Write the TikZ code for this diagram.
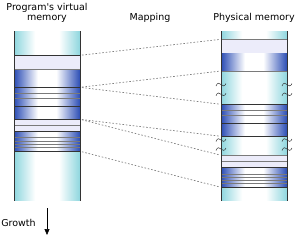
\documentclass[tikz,border=0pt]{standalone}
\usepackage{fontspec}
\setmainfont{DejaVu Sans}
\usepackage{xcolor}
\definecolor{cCyan}{HTML}{8ED6DE}
\definecolor{cBlue}{HTML}{2B4DB5}
\definecolor{cLav}{HTML}{ECECFA}
\definecolor{cEdge}{HTML}{333333}
\definecolor{cRule}{HTML}{7A7A7A}
\definecolor{cMap}{HTML}{808080}
\usepackage{tikz}
\usetikzlibrary{arrows.meta}
\pgfdeclarehorizontalshading{sh-cyan}{100bp}{color(0bp)=(cCyan); color(25bp)=(cCyan);
  color(41bp)=(white); color(59bp)=(white); color(75bp)=(cCyan); color(100bp)=(cCyan)}
\pgfdeclarehorizontalshading{sh-blue}{100bp}{color(0bp)=(cBlue); color(25bp)=(cBlue);
  color(43bp)=(white); color(57bp)=(white); color(75bp)=(cBlue); color(100bp)=(cBlue)}
\tikzset{
  seg-cyan/.style={shading=sh-cyan},
  seg-blue/.style={shading=sh-blue},
  seg-lav/.style={fill=cLav},
  rule-dark/.style={draw=cEdge,line width=0.9pt},
  rule-light/.style={draw=cRule,line width=0.7pt},
  col-edge/.style={draw=cEdge,line width=0.6pt},
  arrow-map/.style={draw=cMap,line width=0.7pt,dash pattern=on 1.6pt off 1.8pt,
    shorten <=2pt,shorten >=2pt},
  arrow-grow/.style={-{Triangle[length=6pt,width=5pt]},line width=0.6pt},
  label-text/.style={font=\fontsize{9.5}{10.5}\selectfont,align=center,anchor=base},
  brk/.style={draw=cEdge,line width=0.5pt},
}

\begin{document}
\begin{tikzpicture}[x=1pt,y=-1pt]
  \useasboundingbox (0,0) rectangle (297,236);
  % program's virtual memory
  \shade[seg-cyan] (14,31) rectangle (80,55.3);
  \fill[seg-lav]   (14,55.3) rectangle (80,69);
  \shade[seg-blue] (14,69) rectangle (80,119.3);
  \fill[seg-lav]   (14,119.3) rectangle (80,131.3);
  \shade[seg-blue] (14,131.3) rectangle (80,151.3);
  \shade[seg-cyan] (14,151.3) rectangle (80,200.7);
  \foreach \y in {69,93.3,98.3,125.3,137.3,141.3,144.3,147.3}
    \draw[rule-light] (14,\y) -- (80,\y);
  \foreach \y in {55.3,87.3,106,119.3,131.3,151.3}
    \draw[rule-dark] (14,\y) -- (80,\y);
  \draw[col-edge] (14,31) -- (14,200.7) (80,31) -- (80,200.7);
  % physical memory
  \shade[seg-cyan] (221,31) rectangle (287,39.3);
  \fill[seg-lav]   (221,39.3) rectangle (287,53.3);
  \shade[seg-blue] (221,53.3) rectangle (287,71);
  \shade[seg-cyan] (221,71) rectangle (287,104.3);
  \shade[seg-blue] (221,104.3) rectangle (287,136.3);
  \shade[seg-cyan] (221,136.3) rectangle (287,155.3);
  \fill[seg-lav]   (221,155.3) rectangle (287,167.3);
  \shade[seg-blue] (221,167.3) rectangle (287,187.3);
  \shade[seg-cyan] (221,187.3) rectangle (287,200.7);
  \foreach \y in {39.3,71,110.3,115.3,155.3,161.3,174,177,180,183}
    \draw[rule-light] (221,\y) -- (287,\y);
  \foreach \y in {104.3,123,136.3,167.3,187.3}
    \draw[rule-dark] (221,\y) -- (287,\y);
  \draw[col-edge] (221,31) -- (221,200.7) (287,31) -- (287,200.7);
  % breaks in the free areas
  \foreach \x in {221,287}
    \foreach \y in {84.5,94.3,140,149}
      \draw[brk] (\x-5,\y+1.5) .. controls (\x-4,\y-2) and (\x-1,\y-2) .. (\x,\y)
        .. controls (\x+1,\y+2) and (\x+4,\y+2) .. (\x+5,\y-1);
  % mapping
  \coordinate (virt-1) at (80,55.3);
  \coordinate (virt-2) at (80,87.3);
  \coordinate (virt-3) at (80,119.3);
  \coordinate (virt-4) at (80,151.3);
  \coordinate (phys-1) at (221,39.3);
  \coordinate (phys-2) at (221,71);
  \coordinate (phys-3) at (221,104.3);
  \coordinate (phys-4) at (221,136.3);
  \coordinate (phys-5) at (221,155.3);
  \coordinate (phys-6) at (221,187.3);
  \draw[arrow-map] (virt-1) -- (phys-1);
  \draw[arrow-map] (virt-2) -- (phys-2);
  \draw[arrow-map] (virt-2) -- (phys-3);
  \draw[arrow-map] (virt-3) -- (phys-4);
  \draw[arrow-map] (virt-3) -- (phys-5);
  \draw[arrow-map] (virt-4) -- (phys-6);
  % titles
  \node[label-text] (title-virt) at (47,20.7) {Program\textquotesingle s virtual\\memory};
  \node[label-text] (title-map)  at (150,20.7) {Mapping};
  \node[label-text] (title-phys) at (254,20.7) {Physical memory};
  % growth
  \node[label-text] (growth-lbl) at (18.5,226.7) {Growth};
  \coordinate (grow-top) at (47,208);
  \coordinate (grow-end) at (47,235);
  \draw[arrow-grow] (grow-top) -- (grow-end);
\end{tikzpicture}
\end{document}
